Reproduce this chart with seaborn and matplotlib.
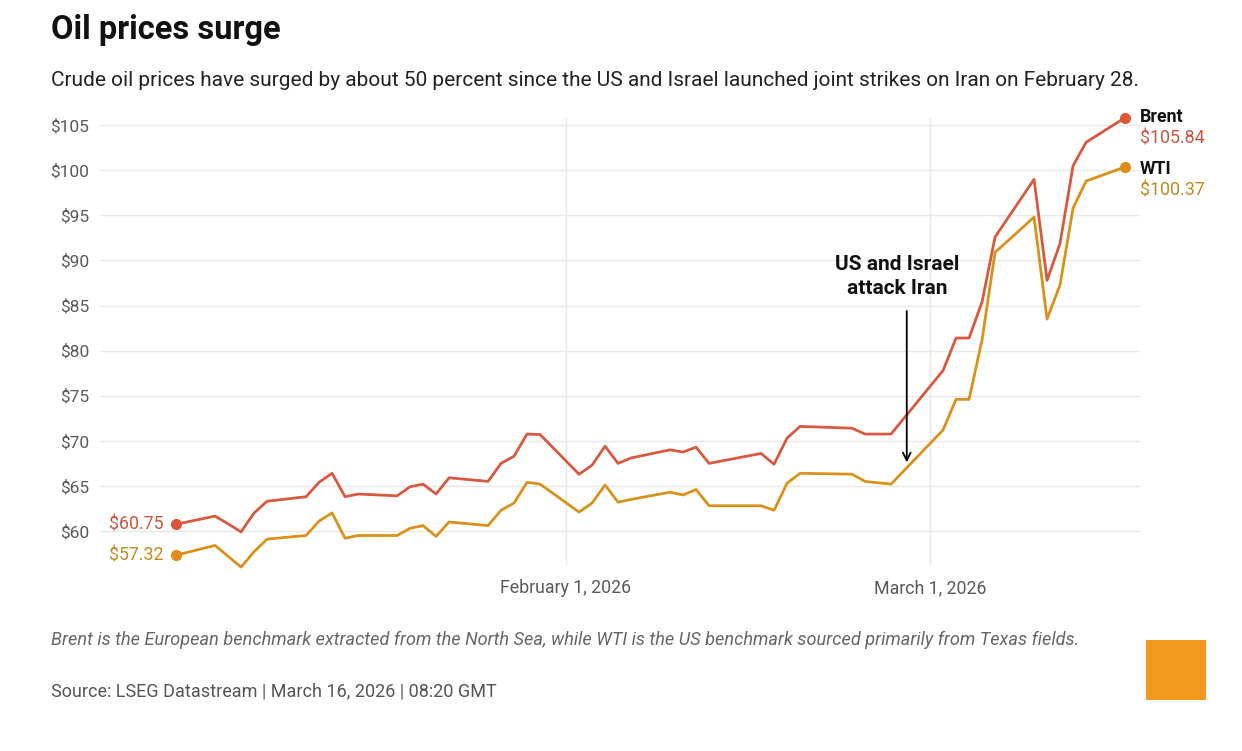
import matplotlib

matplotlib.use("Agg")

import matplotlib.pyplot as plt
import matplotlib.patches as mpatches
import pandas as pd
import seaborn as sns


dates = [
    "2026-01-02", "2026-01-05", "2026-01-06", "2026-01-07", "2026-01-08", "2026-01-09",
    "2026-01-12", "2026-01-13", "2026-01-14", "2026-01-15", "2026-01-16",
    "2026-01-19", "2026-01-20", "2026-01-21", "2026-01-22", "2026-01-23",
    "2026-01-26", "2026-01-27", "2026-01-28", "2026-01-29", "2026-01-30",
    "2026-02-02", "2026-02-03", "2026-02-04", "2026-02-05", "2026-02-06",
    "2026-02-09", "2026-02-10", "2026-02-11", "2026-02-12",
    "2026-02-16", "2026-02-17", "2026-02-18", "2026-02-19",
    "2026-02-23", "2026-02-24", "2026-02-26",
    "2026-03-02", "2026-03-03", "2026-03-04", "2026-03-05", "2026-03-06",
    "2026-03-09", "2026-03-10", "2026-03-11", "2026-03-12", "2026-03-13",
    "2026-03-16",
]
brent = [
    60.75, 61.65, 60.8, 59.9, 62.0, 63.3,
    63.8, 65.4, 66.4, 63.8, 64.1,
    63.9, 64.9, 65.2, 64.1, 65.9,
    65.5, 67.5, 68.3, 70.75, 70.7,
    66.3, 67.3, 69.4, 67.5, 68.1,
    69.0, 68.75, 69.3, 67.5,
    68.6, 67.4, 70.3, 71.6,
    71.4, 70.75, 70.75,
    77.8, 81.4, 81.4, 85.4, 92.6,
    99.0, 87.8, 91.9, 100.5, 103.1,
    105.84,
]
wti = [
    57.32, 58.4, 57.2, 56.0, 57.7, 59.1,
    59.5, 61.1, 62.0, 59.2, 59.5,
    59.5, 60.3, 60.6, 59.4, 61.0,
    60.6, 62.3, 63.1, 65.4, 65.2,
    62.1, 63.1, 65.1, 63.2, 63.5,
    64.3, 64.0, 64.6, 62.8,
    62.8, 62.3, 65.3, 66.4,
    66.3, 65.5, 65.2,
    71.2, 74.6, 74.6, 81.2, 90.9,
    94.8, 83.5, 87.3, 95.8, 98.8,
    100.37,
]
y_ticks = [60, 65, 70, 75, 80, 85, 90, 95, 100, 105]
x_ticks = ["2026-02-01", "2026-03-01"]
x_tick_labels = ["February 1, 2026", "March 1, 2026"]

BRENT_COLOR = "#d65a3f"
WTI_COLOR = "#d8921c"
BRENT_TEXT = "#c9573f"
WTI_TEXT = "#c08a22"
GRID = "#e8e8e8"

df = pd.DataFrame({"date": pd.to_datetime(dates), "Brent": brent, "WTI": wti})

sns.set_theme(style="white")
plt.rcParams["font.family"] = ["Roboto", "DejaVu Sans"]

fig = plt.figure(figsize=(12.42, 7.51), dpi=100)
ax = fig.add_axes([100 / 1242, 1 - 565 / 751, 1040 / 1242, 447 / 751])

sns.lineplot(data=df, x="date", y="Brent", color=BRENT_COLOR, linewidth=2.0, ax=ax)
sns.lineplot(data=df, x="date", y="WTI", color=WTI_COLOR, linewidth=2.0, ax=ax)
for line in ax.lines:
    line.set_clip_on(False)

first, last = df.iloc[0], df.iloc[-1]
for col, c in [("Brent", "#dc5638"), ("WTI", "#e08c18")]:
    ax.plot([first["date"], last["date"]], [first[col], last[col]], "o",
            color=c, markersize=7, linestyle="none", clip_on=False, zorder=5)

ax.set_xlim(pd.Timestamp("2026-01-02") - pd.Timedelta(days=5.85),
            pd.Timestamp("2026-03-16") + pd.Timedelta(days=1.15))
ax.set_ylim(56.23, 105.8)

ax.set_yticks(y_ticks)
ax.set_yticklabels([f"${v}" for v in y_ticks])
ax.set_xticks(pd.to_datetime(x_ticks))
ax.set_xticklabels(x_tick_labels)
ax.tick_params(axis="both", length=0, labelcolor="#5a5a5a")
ax.tick_params(axis="y", pad=8, labelsize=12.5)
ax.tick_params(axis="x", pad=10, labelsize=12.8)
ax.set_xlabel("")
ax.set_ylabel("")
ax.grid(True, axis="both", color=GRID, linewidth=1.0)
for s in ax.spines.values():
    s.set_visible(False)

# start labels
off = pd.Timedelta(days=0.95)
ax.text(first["date"] - off, first["Brent"], f"${first['Brent']:.2f}", ha="right",
        va="center", color=BRENT_TEXT, fontsize=12.8)
ax.text(first["date"] - off, first["WTI"], f"${first['WTI']:.2f}", ha="right",
        va="center", color=WTI_TEXT, fontsize=12.8)

# end labels
lx = last["date"] + pd.Timedelta(days=1.15)
ax.text(lx, last["Brent"] + 0.1, "Brent", ha="left", va="center", fontsize=12.8,
        fontweight="bold", color="#111111", clip_on=False)
ax.text(lx, last["Brent"] - 2.35, f"${last['Brent']:.2f}", ha="left", va="center",
        fontsize=12.8, color=BRENT_TEXT, clip_on=False)
ax.text(lx, last["WTI"] - 0.2, "WTI", ha="left", va="center", fontsize=12.8,
        fontweight="bold", color="#111111", clip_on=False)
ax.text(lx, last["WTI"] - 2.65, f"${last['WTI']:.2f}", ha="left", va="center",
        fontsize=12.8, color=WTI_TEXT, clip_on=False)

# annotation
arrow_x = pd.Timestamp("2026-02-27 05:00")
ax.annotate("", xy=(arrow_x, 67.3), xytext=(arrow_x, 84.7),
            arrowprops=dict(arrowstyle="->", color="black", lw=1.3,
                            mutation_scale=14))
ax.text(pd.Timestamp("2026-02-26 12:00"), 88.2, "US and Israel\nattack Iran",
        ha="center", va="center", fontsize=15, fontweight="bold",
        color="#111111", linespacing=1.3)

fig.text(51 / 1242, 1 - 30 / 751, "Oil prices surge", fontsize=23.5, fontweight="bold",
         color="#111111", ha="left", va="center")
fig.text(51 / 1242, 1 - 80 / 751,
         "Crude oil prices have surged by about 50 percent since the US and Israel "
         "launched joint strikes on Iran on February 28.",
         fontsize=15.0, color="#222222", ha="left", va="center")
fig.text(51 / 1242, 1 - 640 / 751,
         "Brent is the European benchmark extracted from the North Sea, while WTI is "
         "the US benchmark sourced primarily from Texas fields.",
         fontsize=13.05, style="italic", color="#666666", ha="left", va="center")
fig.text(51 / 1242, 1 - 691 / 751, "Source: LSEG Datastream | March 16, 2026 | 08:20 GMT",
         fontsize=13, color="#555555", ha="left", va="center")

fig.patches.append(mpatches.Rectangle((1146 / 1242, 1 - 700 / 751), 60 / 1242, 60 / 751,
                                      transform=fig.transFigure, facecolor="#f39a1e",
                                      edgecolor="none"))

fig.savefig("out.png", dpi=100, facecolor="white")
plt.close(fig)
